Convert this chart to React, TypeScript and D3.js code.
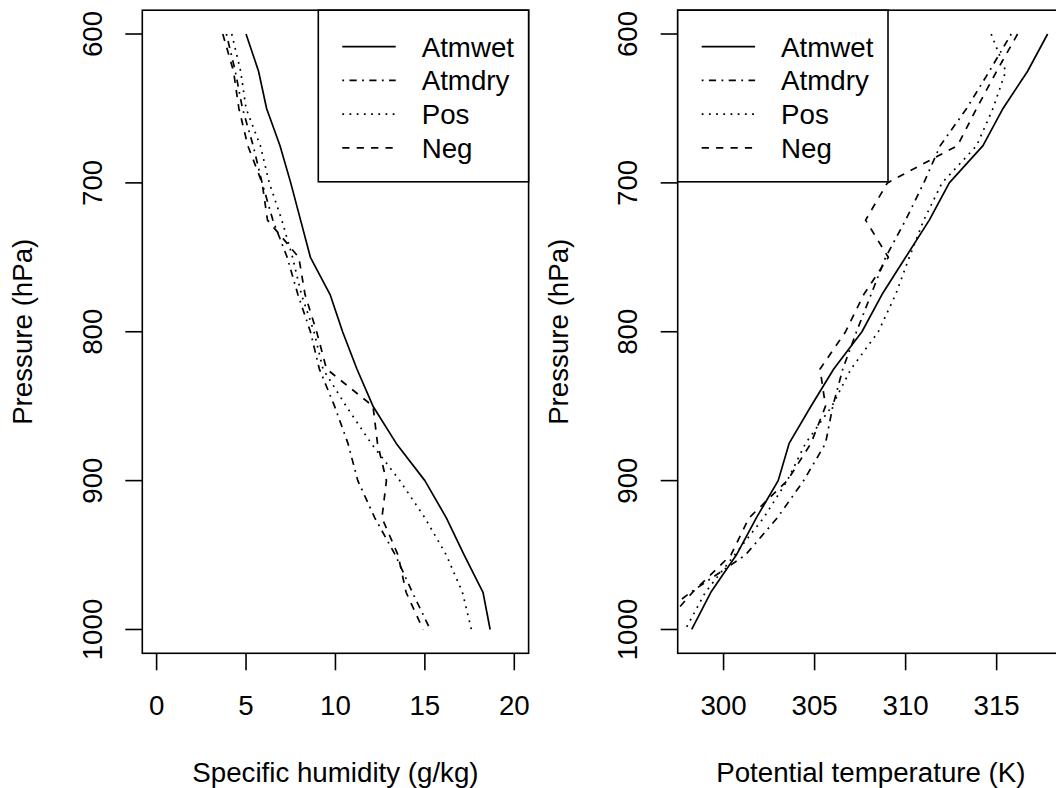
import React from "react";
import * as d3 from "d3";

// pressure levels (hPa)
const pressure = [600, 625, 650, 675, 700, 725, 750, 775, 800, 825, 850, 875, 900, 925, 950, 975, 1000];

// specific humidity (g/kg)
const qAtmwet = [5.0, 5.7, 6.15, 6.9, 7.5, 8.05, 8.6, 9.7, 10.4, 11.2, 12.1, 13.4, 15.0, 16.2, 17.2, 18.25, 18.65];
const qAtmdry = [3.9, 4.4, 4.8, 5.4, 5.9, 6.5, 7.3, 7.9, 8.6, 9.1, 9.95, 10.7, 11.25, 12.2, 13.35, 14.3, 15.3];
const qPos = [4.2, 4.7, 5.0, 5.8, 6.3, 7.0, 7.6, 8.1, 8.8, 9.3, 10.6, 12.0, 13.6, 15.0, 16.2, 17.1, 17.6];
const qNeg = [3.7, 4.3, 4.6, 5.1, 5.9, 6.2, 7.95, 8.3, 8.95, 9.5, 12.1, 12.35, 12.85, 12.6, 13.5, 13.95, 14.9];

// potential temperature (K)
const thAtmwet = [317.8, 316.7, 315.35, 314.25, 312.4, 311.3, 310.0, 308.7, 307.6, 306.05, 304.8, 303.6, 303.0, 301.8, 300.7, 299.3, 298.25];
const thAtmdry = [315.8, 314.6, 313.35, 311.9, 311.0, 310.0, 308.9, 308.1, 307.3, 306.55, 306.0, 305.6, 304.4, 302.95, 301.2, 298.2, 295.5];
const thPos = [314.7, 315.5, 314.8, 313.9, 312.0, 311.0, 310.2, 309.45, 308.5, 307.0, 305.95, 304.5, 303.5, 302.2, 300.6, 299.0, 297.9];
const thNeg = [316.15, 315.0, 313.9, 312.85, 309.0, 307.8, 309.05, 307.7, 306.7, 305.3, 305.6, 304.8, 303.5, 301.4, 300.4, 298.3, 296.5];

const seriesNames = ["Atmwet", "Atmdry", "Pos", "Neg"];
const pressureTicks = [600, 700, 800, 900, 1000];
const qTicks = [0, 5, 10, 15, 20];
const thTicks = [300, 305, 310, 315];

// R line types: solid, dotdash, dotted, dashed
const dashStyle = ["none", "1.8,5.4,7.2,5.4", "1.8,5.4", "7.2,7.2"];

const FONT = "'Liberation Sans', Arial, Helvetica, sans-serif";
const FS = 27.7;
const TOP = 10.2;
const BOTTOM = 653.3;

const y = d3.scaleLinear().domain([584, 1016]).range([TOP, BOTTOM]);

type PanelProps = {
  id: string;
  x: d3.ScaleLinear<number, number>;
  series: number[][];
  ticks: number[];
  xLabel: string;
  legendLeft: number;
};

const Panel = ({ id, x, series, ticks, xLabel, legendLeft }: PanelProps) => {
  const [x0, x1] = x.range();
  const line = (vals: number[]) =>
    d3.line<number>().x((v) => x(v)).y((_, i) => y(pressure[i]))(vals) || "";
  const legendRight = legendLeft + 210.3;
  const rows = [46.7, 80.4, 114.1, 147.8];

  return (
    <g fontFamily={FONT} fontSize={FS} fill="#000">
      <defs>
        <clipPath id={id}>
          <rect x={x0} y={TOP} width={x1 - x0} height={BOTTOM - TOP} />
        </clipPath>
      </defs>

      {/* series */}
      <g clipPath={`url(#${id})`}>
        {series.map((s, i) => (
          <path
            key={i}
            d={line(s)}
            fill="none"
            stroke="#000"
            strokeWidth={1.7}
            strokeDasharray={dashStyle[i]}
            strokeLinejoin="round"
          />
        ))}
      </g>

      {/* box */}
      <rect x={x0} y={TOP} width={x1 - x0} height={BOTTOM - TOP} fill="none" stroke="#000" strokeWidth={1.6} />

      {/* y axis */}
      {pressureTicks.map((p) => (
        <g key={p}>
          <line x1={x0 - 17} x2={x0} y1={y(p)} y2={y(p)} stroke="#000" strokeWidth={1.6} />
          <text
            transform={`translate(${x0 - 40.8},${y(p)}) rotate(-90)`}
            textAnchor="middle"
          >
            {p}
          </text>
        </g>
      ))}
      <text transform={`translate(${x0 - 110},${(TOP + BOTTOM) / 2}) rotate(-90)`} textAnchor="middle">
        Pressure (hPa)
      </text>

      {/* x axis */}
      {ticks.map((t) => (
        <g key={t}>
          <line x1={x(t)} x2={x(t)} y1={BOTTOM} y2={BOTTOM + 17} stroke="#000" strokeWidth={1.6} />
          <text x={x(t)} y={714.8} textAnchor="middle">
            {t}
          </text>
        </g>
      ))}
      <text x={(x0 + x1) / 2} y={782} textAnchor="middle">
        {xLabel}
      </text>

      {/* legend */}
      <rect
        x={legendLeft}
        y={TOP}
        width={legendRight - legendLeft}
        height={181.8 - TOP}
        fill="#fff"
        stroke="#000"
        strokeWidth={1.6}
      />
      {seriesNames.map((n, i) => (
        <g key={n}>
          <line
            x1={legendLeft + 24}
            x2={legendLeft + 77.4}
            y1={rows[i]}
            y2={rows[i]}
            stroke="#000"
            strokeWidth={1.7}
            strokeDasharray={dashStyle[i]}
          />
          <text x={legendLeft + 103.4} y={rows[i] + 9.9}>
            {n}
          </text>
        </g>
      ))}
    </g>
  );
};

export default function App() {
  const xq = d3.scaleLinear().domain([-0.8, 20.8]).range([142.3, 528.6]);
  const xth = d3.scaleLinear().domain([297.48, 318.7]).range([677.7, 1064]);

  return (
    <svg
      width={1056}
      height={788}
      style={{ position: "absolute", left: 0, top: 0, background: "#fff" }}
    >
      <rect width={1056} height={788} fill="#fff" />
      <Panel
        id="clipQ"
        x={xq}
        series={[qAtmwet, qAtmdry, qPos, qNeg]}
        ticks={qTicks}
        xLabel="Specific humidity (g/kg)"
        legendLeft={318.3}
      />
      <Panel
        id="clipTh"
        x={xth}
        series={[thAtmwet, thAtmdry, thPos, thNeg]}
        ticks={thTicks}
        xLabel="Potential temperature (K)"
        legendLeft={677.7}
      />
    </svg>
  );
}
